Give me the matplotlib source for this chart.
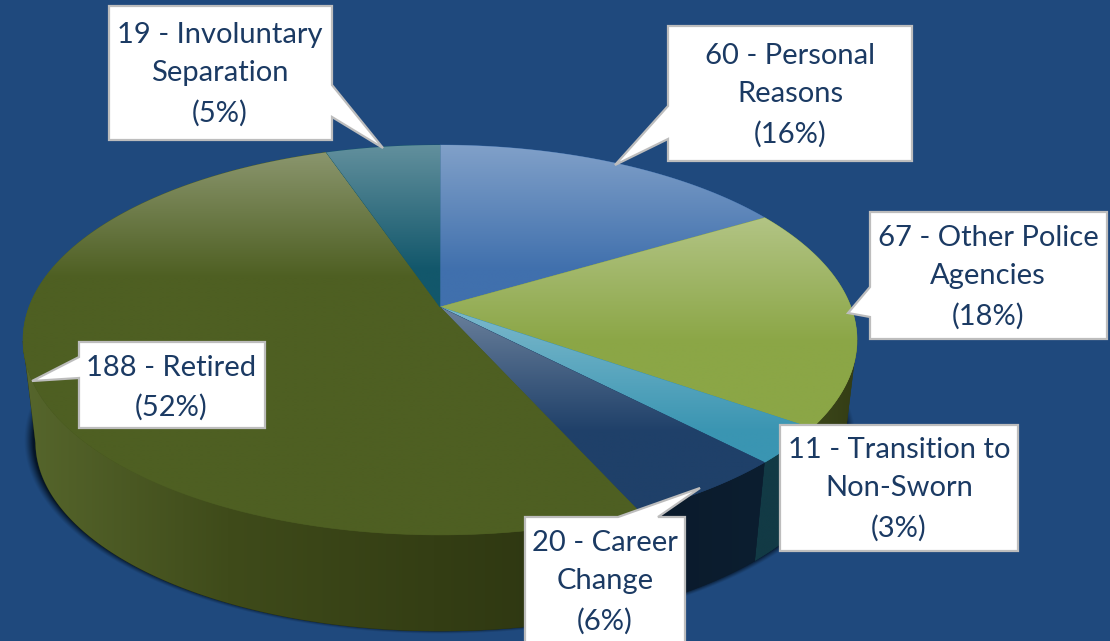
import numpy as np
import matplotlib
matplotlib.use("Agg")
import matplotlib.pyplot as plt
from matplotlib.colors import to_rgb
from matplotlib.patches import Polygon

# ---- data ----
names = ["Personal\nReasons", "Other Police\nAgencies", "Transition to\nNon-Sworn",
         "Career\nChange", "Retired", "Involuntary\nSeparation"]
values = [60, 67, 11, 20, 188, 19]
percents = [16, 18, 3, 6, 52, 5]

# ---- styles ----
BG = "#1F497D"
TEXT = "#1B3A63"
BORDER = "#BDBDBD"
top_colors = ["#4070AD", "#8BA646", "#3A95B2", "#1F4069", "#4E5F22", "#12576B"]
side_stops = [["#1d3a60", "#1d3a60"], ["#3E4A1C", "#333C14"], ["#123A45", "#123A45"],
              ["#0A1A2B", "#0C1E30"], ["#56662C", "#3F4B1A", "#343E14", "#2A3210"],
              ["#0c3c4a", "#0c3c4a"]]
FADE_PX = 125.0

# projection of the pie's unit disc onto the page (pixels)
CX, CY, A, B, K = 440.0, 307.0, 411.0, 189.4, 0.169
ELL_Y, DROP_Y, SHRINK = 340.0, 442.0, 0.97


def project(theta):
    u, v = np.sin(theta), np.cos(theta)
    d = 1 + K * v
    return CX + A * u / d, CY - B * v / d


def drop(x, y):
    return CX + (x - CX) * SHRINK, DROP_Y + (y - ELL_Y) * SHRINK


def grad_image(ax, poly_xy, column, extent, z):
    im = ax.imshow(column, extent=extent, aspect="auto", interpolation="bilinear", zorder=z)
    patch = Polygon(poly_xy, closed=True, transform=ax.transData, fc="none", ec="none")
    im.set_clip_path(patch)


fig = plt.figure(figsize=(11.1, 6.41), dpi=100, facecolor=BG)
ax = fig.add_axes([0, 0, 1, 1])
ax.set_facecolor(BG)
ax.axis("off")

# cast shadow under the pie
gy, gx = np.mgrid[0:641, 0:1110]
r = np.sqrt(((gx + .5 - CX) / 416.0) ** 2 + ((gy + .5 - (DROP_Y - 2)) / 194.0) ** 2)
alpha = np.clip((1.0 - r) / 0.022, 0, 1) ** 1.3 * 0.9
shadow = np.zeros((641, 1110, 4))
shadow[..., :3] = to_rgb("#03101F")
shadow[..., 3] = alpha
ax.imshow(shadow, extent=(0, 1110, 641, 0), aspect="auto", zorder=0.5)

edges = np.cumsum([0] + values) / sum(values) * 2 * np.pi
spans = list(zip(edges[:-1], edges[1:]))

# side walls: only the front of the rim, from the widest points downward
for (t0, t1), stops in zip(spans, side_stops):
    th = np.linspace(t0, t1, 400)
    x, y = project(th)
    vis = y >= ELL_Y
    if not vis.any():
        continue
    x, y = x[vis], y[vis]
    xb, yb = drop(x, y)
    poly = np.column_stack([np.r_[x, xb[::-1]], np.r_[y, yb[::-1]]])
    ax.fill(poly[:, 0], poly[:, 1], color=stops[-1], lw=0.3, zorder=1)
    cols = np.array([to_rgb(c) for c in stops])
    pos = np.linspace(0, 1, len(stops))
    f = np.linspace(0, 1, 256)
    row = np.stack([np.interp(f, pos, cols[:, i]) for i in range(3)], axis=-1)[None, :, :]
    grad_image(ax, poly, row, (poly[:, 0].min() - 1, poly[:, 0].max() + 1,
                               poly[:, 1].max() + 1, poly[:, 1].min() - 1), 1)

# top faces with a light sheen fading down each slice
for (t0, t1), base in zip(spans, top_colors):
    th = np.linspace(t0, t1, 200)
    x, y = project(th)
    px = np.r_[CX, x]
    py = np.r_[CY, y]
    ax.fill(px, py, color=base, lw=0.4, zorder=2)
    ytop, ybot = py.min(), py.max()
    t = np.linspace(0, ybot - ytop, 256)
    a = 0.34 * np.clip(1 - t / FADE_PX, 0, 1)
    rgb = np.array(to_rgb(base))
    col = (rgb[None, :] * (1 - a[:, None]) + a[:, None])[:, None, :]
    grad_image(ax, np.column_stack([px, py]), col, (px.min() - 1, px.max() + 1, ybot, ytop), 2)

# callouts: outline of box with pointer, text centre
callouts = [
    ([(668, 26), (912, 26), (912, 161), (668, 161), (668, 139), (615, 165), (668, 106)], (790, 95)),
    ([(870, 212), (1107, 212), (1107, 339), (870, 339), (870, 317), (848, 313), (870, 287)], (988, 277)),
    ([(780, 425), (1018, 425), (1018, 551), (780, 551)], (899, 489)),
    ([(525, 517), (618, 517), (700, 488), (658, 517), (685, 517), (685, 660), (525, 660)], (605, 582)),
    ([(79, 342), (265, 342), (265, 428), (79, 428), (79, 378), (32, 381), (79, 357)], (171, 387.5)),
    ([(109, 6), (332, 6), (332, 85), (383, 148), (332, 117), (332, 140), (109, 140)], (220, 74)),
]
for name, v, p, (outline, centre) in zip(names, values, percents, callouts):
    xs, ys = zip(*outline)
    ax.fill(xs, ys, fc="white", ec=BORDER, lw=1.6, zorder=5, joinstyle="miter")
    ax.text(centre[0], centre[1], f"{v} - {name}\n({p}%)", ha="center", va="center",
            family="Lato", fontsize=21, color=TEXT, linespacing=1.6, zorder=6)

ax.set_xlim(0, 1110)
ax.set_ylim(641, 0)
fig.savefig("out.png", dpi=100, facecolor=BG)
